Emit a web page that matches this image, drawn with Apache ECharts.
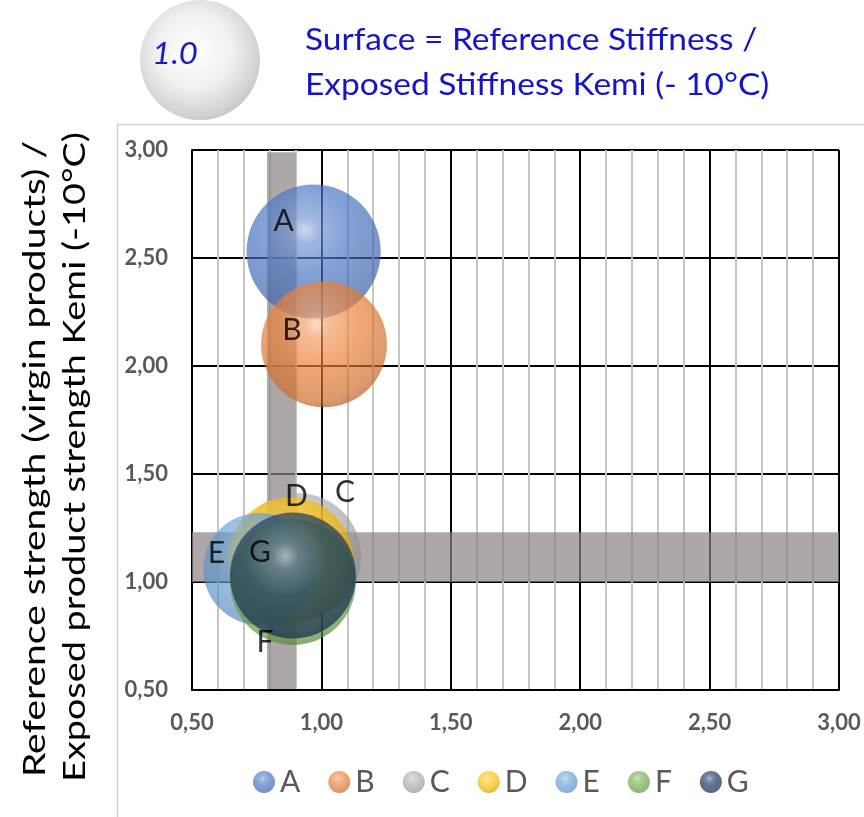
<!DOCTYPE html>
<html>
<head>
<meta charset="utf-8">
<script src="https://cdn.jsdelivr.net/npm/echarts@6/dist/echarts.min.js"></script>
<style>
  html, body { margin: 0; padding: 0; background: #fff; }
  #chart { width: 864px; height: 817px; }
</style>
</head>
<body>
<div id="chart"></div>
<script>
// Products
const productNames = ['A', 'B', 'C', 'D', 'E', 'F', 'G'];
// Reference stiffness / exposed stiffness (x)
const stiffnessRatio = [0.97, 1.01, 0.91, 0.88, 0.76, 0.89, 0.89];
// Reference strength / exposed strength (y)
const strengthRatio = [2.53, 2.10, 1.12, 1.10, 1.06, 1.00, 1.03];
// Bubble surface value
const surfaceValue = [1.25, 1.10, 1.10, 1.10, 0.87, 1.10, 1.10];
// Reference bubble
const referenceSurface = 1.0;
// Highlighted zones
const stiffnessBand = [0.79, 0.90];
const strengthBand = [1.00, 1.23];
// Axis range
const axisMin = 0.5, axisMax = 3.0, axisStep = 0.5;

const palette = ['#4472C4', '#ED7D31', '#A5A5A5', '#FFC000', '#5B9BD5', '#70AD47', '#1F3A60'];
const opacities = [0.85, 0.85, 0.8, 0.85, 0.8, 0.85, 0.9];
const labelOffsets = [[-30, -30], [-32, -14], [47, -64], [6, -64], [-43, -16], [-28, 60], [-33, -23]];
const UNIT_RADIUS = 60; // radius in px for a surface of 1.0

function radiusOf(s) { return UNIT_RADIUS * Math.sqrt(s); }

function hexToRgb(h) {
  const n = parseInt(h.slice(1), 16);
  return [(n >> 16) & 255, (n >> 8) & 255, n & 255];
}
function mix(hex, target, t, a) {
  const c = hexToRgb(hex);
  const r = c.map((v, i) => Math.round(v + (target[i] - v) * t));
  return 'rgba(' + r.join(',') + ',' + a + ')';
}
function ballFill(hex, a) {
  const W = [255, 255, 255], K = [0, 0, 0];
  return new echarts.graphic.RadialGradient(0.44, 0.34, 0.72, [
    { offset: 0, color: mix(hex, W, 0.6, a) },
    { offset: 0.14, color: mix(hex, W, 0.25, a) },
    { offset: 0.45, color: mix(hex, W, 0.02, a) },
    { offset: 0.85, color: mix(hex, K, 0.15, a) },
    { offset: 1, color: mix(hex, K, 0.35, a) }
  ]);
}

const fmt = v => v.toFixed(2).replace('.', ',');

const bubbleSeries = productNames.map((name, i) => ({
  name: name,
  type: 'scatter',
  z: 3,
  data: [[stiffnessRatio[i], strengthRatio[i], surfaceValue[i]]],
  symbol: 'circle',
  symbolSize: d => 2 * radiusOf(d[2]),
  itemStyle: { color: ballFill(palette[i], opacities[i]) },
  label: {
    show: true,
    position: 'inside',
    offset: labelOffsets[i],
    formatter: () => name,
    fontFamily: 'Lato',
    fontSize: 30,
    color: '#000'
  },
  emphasis: { disabled: true }
}));

const bandSeries = {
  name: 'zones',
  type: 'scatter',
  z: 1,
  data: [],
  silent: true,
  markArea: {
    silent: true,
    itemStyle: { color: 'rgba(140,130,130,0.7)' },
    data: [
      [{ coord: [stiffnessBand[0], axisMin + 0.005] }, { coord: [stiffnessBand[1], axisMax - 0.01] }],
      [{ coord: [axisMin, strengthBand[0]] }, { coord: [axisMax, strengthBand[1]] }]
    ]
  }
};

const chart = echarts.init(document.getElementById('chart'), null, { renderer: 'canvas' });

const silverBall = new echarts.graphic.RadialGradient(0.45, 0.42, 0.7, [
  { offset: 0, color: '#ffffff' },
  { offset: 0.45, color: '#f0f0f0' },
  { offset: 0.8, color: '#cfcfcf' },
  { offset: 1, color: '#a8a8a8' }
]);

chart.setOption({
  animation: false,
  backgroundColor: '#fff',
  grid: { left: 192, right: 25, top: 150, bottom: 127, containLabel: false },
  legend: {
    data: productNames,
    left: 248,
    top: 762,
    icon: 'circle',
    itemWidth: 22,
    itemHeight: 22,
    itemGap: 28,
    textStyle: { fontFamily: 'Lato', fontSize: 30, color: '#595959' }
  },
  xAxis: {
    type: 'value',
    min: axisMin, max: axisMax, interval: axisStep,
    axisLine: { show: true, lineStyle: { color: '#000', width: 2 } },
    axisTick: { show: false },
    axisLabel: { formatter: fmt, margin: 22, fontFamily: 'Lato', fontWeight: 'bold', fontSize: 22, color: '#595959' },
    splitLine: { show: true, lineStyle: { color: '#000', width: 2 } },
    minorTick: { show: false, splitNumber: 5 },
    minorSplitLine: { show: true, lineStyle: { color: '#c6c6c6', width: 2 } }
  },
  yAxis: {
    type: 'value',
    min: axisMin, max: axisMax, interval: axisStep,
    axisLine: { show: true, lineStyle: { color: '#000', width: 2 } },
    axisTick: { show: false },
    axisLabel: { formatter: fmt, margin: 24, fontFamily: 'Lato', fontWeight: 'bold', fontSize: 22, color: '#595959' },
    splitLine: { show: true, lineStyle: { color: '#000', width: 2 } }
  },
  graphic: [
    {
      type: 'rect', silent: true, z: -1,
      shape: { x: 117.5, y: 124.5, width: 800, height: 800 },
      style: { fill: 'none', stroke: '#d0d0d0', lineWidth: 1.5 }
    },
    {
      type: 'circle', silent: true,
      shape: { cx: 200, cy: 60, r: radiusOf(referenceSurface) },
      style: { fill: silverBall }
    },
    {
      type: 'text', silent: true, x: 175, y: 54, scaleX: 1.1,
      style: {
        text: referenceSurface.toFixed(1), fontFamily: 'Lato', fontStyle: 'italic',
        fontSize: 30, fill: '#1a1acc', align: 'center', verticalAlign: 'middle'
      }
    },
    {
      type: 'text', silent: true, x: 305, y: 40, scaleX: 1.08,
      style: {
        text: 'Surface = Reference Stiffness /', fontFamily: 'Lato',
        fontSize: 31, fill: '#1414c8', align: 'left', verticalAlign: 'middle'
      }
    },
    {
      type: 'text', silent: true, x: 305, y: 85, scaleX: 1.08,
      style: {
        text: 'Exposed Stiffness Kemi (- 10\u00B0C)', fontFamily: 'Lato',
        fontSize: 31, fill: '#1414c8', align: 'left', verticalAlign: 'middle'
      }
    },
    {
      type: 'text', silent: true, x: 35, y: 459, rotation: Math.PI / 2, scaleX: 1.3,
      style: {
        text: 'Reference strength (virgin products) /', fontFamily: 'Lato',
        fontSize: 30, fill: '#000', align: 'center', verticalAlign: 'middle'
      }
    },
    {
      type: 'text', silent: true, x: 75, y: 457, rotation: Math.PI / 2, scaleX: 1.26,
      style: {
        text: 'Exposed product strength Kemi (-10\u00B0C)', fontFamily: 'Lato',
        fontSize: 30, fill: '#000', align: 'center', verticalAlign: 'middle'
      }
    }
  ],
  series: [bandSeries].concat(bubbleSeries)
});
</script>
</body>
</html>
